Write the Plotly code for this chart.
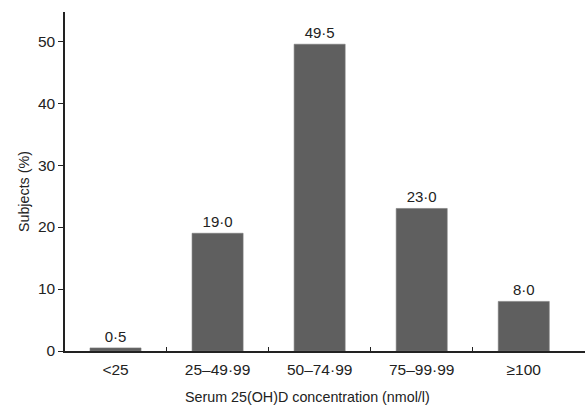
import plotly.graph_objects as go

categories = ["<25", "25–49·99", "50–74·99", "75–99·99", "≥100"]
values = [0.5, 19.0, 49.5, 23.0, 8.0]
value_labels = ["0·5", "19·0", "49·5", "23·0", "8·0"]
y_ticks = [0, 10, 20, 30, 40, 50]
x_title = "Serum 25(OH)D concentration (nmol/l)"
y_title = "Subjects (%)"

x_pos = list(range(len(categories)))

fig = go.Figure(go.Bar(
    x=x_pos, y=values,
    width=0.5,
    marker=dict(color="#5f5f5f", line=dict(color="#7a7a7a", width=0.6)),
    text=value_labels, textposition="outside",
    textfont=dict(size=15, color="#222222"),
    cliponaxis=False,
))

fig.update_layout(
    width=585, height=408,
    margin=dict(l=65, r=0, t=12, b=57),
    paper_bgcolor="white", plot_bgcolor="white",
    font=dict(family="Liberation Sans, Arial, sans-serif", size=15, color="#222222"),
    showlegend=False,
)
fig.update_xaxes(
    automargin=False,
    range=[-0.495, 4.6],
    tickmode="array", tickvals=x_pos, ticktext=categories,
    ticks="", showgrid=False, zeroline=False,
    showline=True, linecolor="#222222", linewidth=1.5,
    ticklabelstandoff=4,
    minor=dict(tickmode="array", tickvals=[0.5, 1.5, 2.5, 3.5], ticks="inside",
               ticklen=4, tickcolor="#222222", tickwidth=1.2, showgrid=False),
    tickfont=dict(size=15.5, color="#222222"),
)
fig.update_yaxes(
    automargin=False,
    range=[0, 54.7],
    tickmode="array", tickvals=y_ticks,
    ticks="outside", ticklen=5, tickcolor="#222222", tickwidth=1.2,
    showgrid=False, zeroline=False,
    showline=True, linecolor="#222222", linewidth=1.5,
    tickfont=dict(size=15.5, color="#222222"),
)
fig.add_annotation(text=x_title, xref="paper", yref="paper", x=0.467, y=-0.136,
                   xanchor="center", yanchor="middle", showarrow=False,
                   font=dict(size=14.3, color="#222222"))
fig.add_annotation(text=y_title, xref="paper", yref="paper", x=-0.08, y=0.47,
                   xanchor="center", yanchor="middle", showarrow=False, textangle=-90,
                   font=dict(size=14.3, color="#222222"))

fig.write_html("out.html", config={"displayModeBar": False},
               post_script="document.body.style.margin='0';")
